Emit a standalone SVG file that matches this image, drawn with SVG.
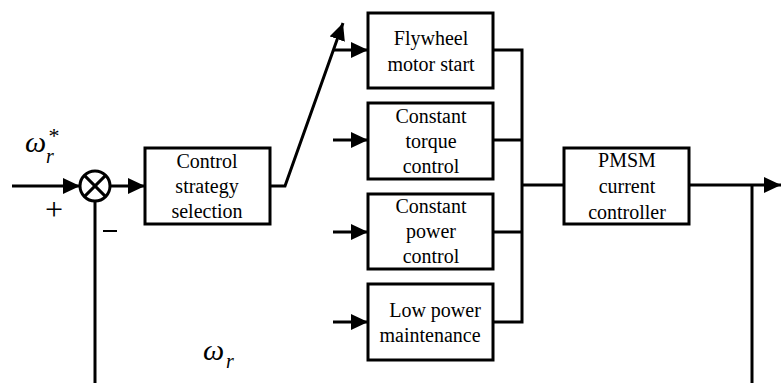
<svg xmlns="http://www.w3.org/2000/svg" width="781" height="383" viewBox="0 0 781 383">
<defs>
<style>
.box{fill:#fff;stroke:#000;stroke-width:3}
.ln{fill:none;stroke:#000;stroke-width:3}
.t{font-family:'Liberation Serif','DejaVu Serif','Times New Roman',serif;font-size:20px;text-anchor:middle;fill:#000}
.m{font-family:'Liberation Serif','DejaVu Serif','Times New Roman',serif;font-style:italic;fill:#000}
</style>
<marker id="ah" markerUnits="userSpaceOnUse" markerWidth="18" markerHeight="16" refX="17" refY="8" orient="auto">
<path d="M0,0 L17,8 L0,16 Z" fill="#000"/>
</marker>
</defs>
<g id="connectors">
<line class="ln" x1="12" y1="186" x2="80" y2="186" marker-end="url(#ah)"/>
<line class="ln" x1="110" y1="186" x2="145" y2="186" marker-end="url(#ah)"/>
<polyline class="ln" points="270,186 285,186 343,23" marker-end="url(#ah)"/>
<line class="ln" x1="333" y1="50" x2="368" y2="50" marker-end="url(#ah)"/>
<line class="ln" x1="333" y1="140" x2="368" y2="140" marker-end="url(#ah)"/>
<line class="ln" x1="333" y1="232" x2="368" y2="232" marker-end="url(#ah)"/>
<line class="ln" x1="333" y1="322" x2="368" y2="322" marker-end="url(#ah)"/>
<polyline class="ln" points="493,50 522,50 522,322 493,322"/>
<line class="ln" x1="493" y1="140" x2="522" y2="140"/>
<line class="ln" x1="493" y1="232" x2="522" y2="232"/>
<line class="ln" x1="522" y1="185" x2="564" y2="185"/>
<line class="ln" x1="689" y1="185" x2="781" y2="185" marker-end="url(#ah)"/>
<line class="ln" x1="752" y1="185" x2="752" y2="383"/>
<line class="ln" x1="95" y1="201" x2="95" y2="383"/>
</g>
<g id="sum">
<circle cx="95" cy="186" r="15" class="ln"/>
<line class="ln" x1="84.4" y1="175.4" x2="105.6" y2="196.6"/>
<line class="ln" x1="105.6" y1="175.4" x2="84.4" y2="196.6"/>
<text x="54" y="220" class="t" style="font-size:32px">+</text>
<line x1="103" y1="231" x2="117" y2="231" stroke="#000" stroke-width="2"/>
</g>
<g id="label-wref">
<text x="25" y="152" class="m" style="font-size:30px">ω</text>
<text x="46" y="163" class="m" style="font-size:20px">r</text>
<text x="54" y="143" class="t" style="font-size:22px">*</text>
</g>
<g id="label-wr">
<text x="203" y="360" class="m" style="font-size:30px">ω</text>
<text x="226" y="368" class="m" style="font-size:20px">r</text>
</g>
<g id="control-strategy">
<rect class="box" x="145" y="148" width="125" height="76"/>
<text class="t" x="207" y="168">Control</text>
<text class="t" x="207" y="193">strategy</text>
<text class="t" x="207" y="218">selection</text>
</g>
<g id="flywheel">
<rect class="box" x="368" y="13" width="125" height="75"/>
<text class="t" x="431" y="45">Flywheel</text>
<text class="t" x="431" y="71">motor start</text>
</g>
<g id="torque">
<rect class="box" x="368" y="103" width="125" height="76"/>
<text class="t" x="431" y="123">Constant</text>
<text class="t" x="431" y="148">torque</text>
<text class="t" x="431" y="173">control</text>
</g>
<g id="power">
<rect class="box" x="368" y="194" width="125" height="75"/>
<text class="t" x="431" y="213">Constant</text>
<text class="t" x="431" y="238">power</text>
<text class="t" x="431" y="263">control</text>
</g>
<g id="lowpower">
<rect class="box" x="368" y="284" width="125" height="76"/>
<text class="t" x="435" y="317">Low power</text>
<text class="t" x="430" y="342">maintenance</text>
</g>
<g id="pmsm">
<rect class="box" x="564" y="148" width="125" height="76"/>
<text class="t" x="627" y="167">PMSM</text>
<text class="t" x="627" y="193">current</text>
<text class="t" x="627" y="219">controller</text>
</g>
</svg>
